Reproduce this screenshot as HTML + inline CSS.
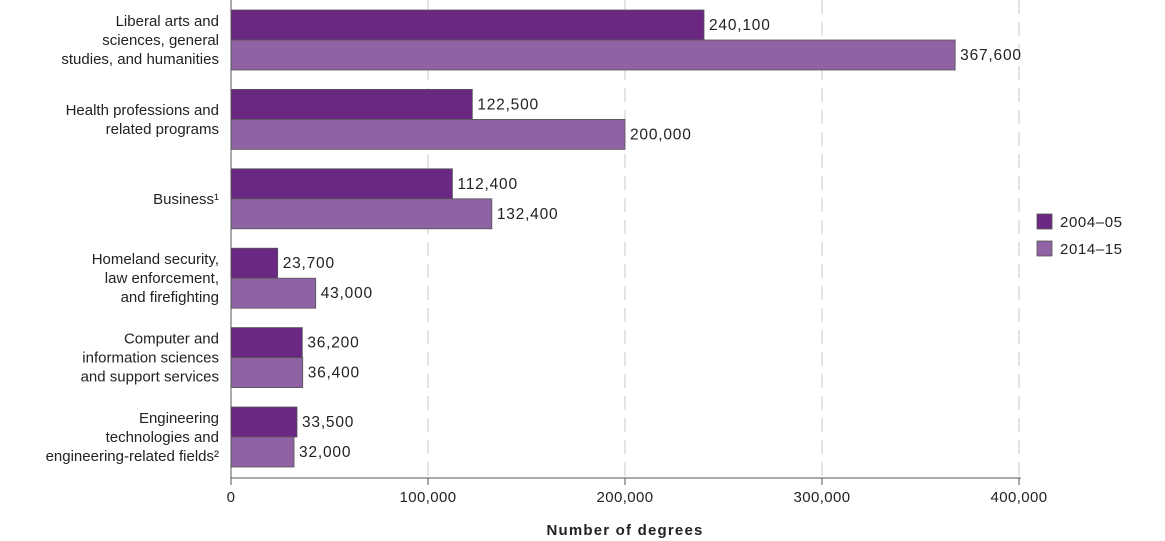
<!DOCTYPE html>
<html><head><meta charset="utf-8"><style>
body{margin:0;background:#fff;}
svg{display:block;font-family:"Liberation Sans",sans-serif;}
</style></head><body>
<svg id="chart" width="1165" height="541">
<g id="grid"></g>
<g id="bars"></g>
<g id="labels"></g>
<g id="axis"></g>
<text x="625" y="535" text-anchor="middle" font-size="15" font-weight="bold" letter-spacing="1.2" fill="#222">Number of degrees</text>
<g>
<rect x="1037" y="214" width="15" height="15" fill="#6a2882" stroke="#555" stroke-width="0.8"/>
<text x="1060" y="227" font-size="15" letter-spacing="0.6" fill="#222">2004–05</text>
<rect x="1037" y="241" width="15" height="15" fill="#8f62a4" stroke="#555" stroke-width="0.8"/>
<text x="1060" y="254" font-size="15" letter-spacing="0.6" fill="#222">2014–15</text>
</g>
</svg>
<script>
const categories=[["Liberal arts and","sciences, general","studies, and humanities"],["Health professions and","related programs"],["Business¹"],["Homeland security,","law enforcement,","and firefighting"],["Computer and","information sciences","and support services"],["Engineering","technologies and","engineering-related fields²"]];
const series2004=[240100,122500,112400,23700,36200,33500];
const series2014=[367600,200000,132400,43000,36400,32000];
const ticks=[0,100000,200000,300000,400000];
const tickLabels=["0","100,000","200,000","300,000","400,000"];
const NS="http://www.w3.org/2000/svg";
const x0=231,x1=1019,vmax=400000;
const xs=v=>x0+(x1-x0)*v/vmax;
const gTop=10,gStep=79.4,bh=30;
function mk(tag,attrs,parent,text){const e=document.createElementNS(NS,tag);for(const k in attrs)e.setAttribute(k,attrs[k]);if(text!==undefined)e.textContent=text;parent.appendChild(e);return e;}
const grid=document.getElementById('grid'),bars=document.getElementById('bars'),labels=document.getElementById('labels'),axis=document.getElementById('axis');
ticks.forEach((t,i)=>{
  if(i>0){const l=mk('line',{x1:xs(t),x2:xs(t),y1:0,y2:478,stroke:'#c8c8c8','stroke-dasharray':'14,8','stroke-width':1},grid);
  
  }
  const tk=mk('line',{x1:xs(t),x2:xs(t),y1:478,y2:485,stroke:'#555'},axis);
  
  
  const tl=mk('text',{x:xs(t),y:502,'text-anchor':'middle','font-size':15,'letter-spacing':0.4,fill:'#222'},axis,tickLabels[i]);
  
  
});
const fmt=v=>v.toLocaleString('en-US');
categories.forEach((c,i)=>{
  const y=gTop+i*gStep;
  [[series2004[i],'#6a2882',y],[series2014[i],'#8f62a4',y+bh]].forEach(([v,col,yy],j)=>{
    const r=mk('rect',{x:x0,y:yy,width:xs(v)-x0,height:bh,fill:col,stroke:'#555','stroke-width':0.8},bars);
    
    
    const t=mk('text',{x:xs(v)+5,y:yy+bh/2+5,'font-size':15.5,'letter-spacing':0.8,fill:'#222'},bars,fmt(v));
    
    
  });
  const cy=y+bh, n=c.length, lh=19;
  c.forEach((line,k)=>{
    const t=mk('text',{x:219,y:cy+(k-(n-1)/2)*lh+5,'text-anchor':'end','font-size':15,fill:'#222'},labels,line);
    
    
  });
});
const ax=mk('line',{x1:x0,x2:x1+2,y1:478,y2:478,stroke:'#555'},axis);


const ay=mk('line',{x1:x0,x2:x0,y1:0,y2:478,stroke:'#555'},axis);


</script>
</body></html>
